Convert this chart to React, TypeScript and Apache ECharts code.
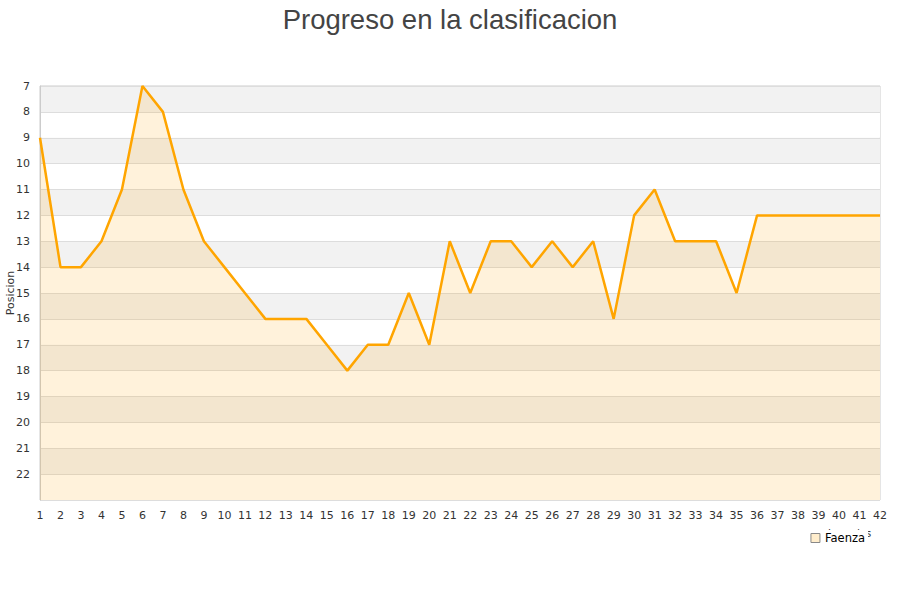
import * as echarts from "echarts";
import { useEffect, useRef } from "react";

const jornadas = Array.from({ length: 42 }, (_, i) => String(i + 1));
const posiciones = [
  9, 14, 14, 13, 11, 7, 8, 11, 13, 14, 15, 16, 16, 16, 17, 18, 17, 17, 15, 17, 13,
  15, 13, 13, 14, 13, 14, 13, 16, 12, 11, 13, 13, 13, 15, 12, 12, 12, 12, 12, 12, 12,
];
const teamName = "Faenza";

export default function App() {
  const chartRef = useRef<HTMLDivElement>(null);

  useEffect(() => {
    if (!chartRef.current) return;
    const chart = echarts.init(chartRef.current, undefined, { renderer: "svg" });

    const option: echarts.EChartsOption = {
      animation: false,
      backgroundColor: "#fff",
      title: {
        text: "Progreso en la clasificacion",
        left: "center",
        top: 0,
        textStyle: {
          fontFamily: "Liberation Sans",
          fontSize: 27.5,
          fontWeight: "normal",
          color: "#444",
        },
      },
      legend: {
        data: [
          {
            name: teamName,
            icon: "rect",
            itemStyle: { color: "#ffedcc", borderColor: "#888", borderWidth: 1 },
          },
        ],
        right: 32,
        top: 530,
        itemWidth: 9,
        itemHeight: 9,
        itemGap: 5,
        backgroundColor: "#fff",
        padding: [2, 3, 2, 3],
        textStyle: { fontFamily: "DejaVu Sans", fontSize: 11.5, color: "#000" },
        z: 10,
      },
      grid: {
        left: 40,
        right: 20,
        top: 86,
        bottom: 100,
        show: true,
        borderColor: "#ccc",
        borderWidth: 1,
        containLabel: false,
        outerBoundsMode: "none",
      } as any,
      xAxis: {
        type: "category",
        data: jornadas,
        boundaryGap: false,
        name: "Jornadas",
        nameLocation: "end",
        nameGap: -52,
        nameTextStyle: {
          fontFamily: "DejaVu Sans",
          fontSize: 10,
          color: "#333",
          verticalAlign: "top",
          padding: [28, 0, 0, 0],
        },
        axisLine: { show: false },
        axisTick: { show: false },
        axisLabel: {
          interval: 0,
          fontFamily: "DejaVu Sans",
          fontSize: 11,
          color: "#333",
          margin: 10,
        },
        splitLine: { show: false },
      },
      yAxis: {
        type: "value",
        inverse: true,
        min: 7,
        max: 23,
        interval: 1,
        name: "Posicion",
        nameLocation: "middle",
        nameGap: 24,
        nameMoveOverlap: false,
        nameTextStyle: { fontFamily: "DejaVu Sans", fontSize: 11, color: "#333" },
        axisLine: { show: true, lineStyle: { color: "#ccc" } },
        axisTick: { show: false },
        axisLabel: {
          fontFamily: "DejaVu Sans",
          fontSize: 11,
          color: "#333",
          margin: 10,
          formatter: (v: number) => (v === 23 ? "" : String(v)),
        },
        splitLine: { show: true, lineStyle: { color: "#ddd" } },
        splitArea: { show: true, areaStyle: { color: ["#f2f2f2", "#ffffff"] } },
      } as any,
      series: [
        {
          name: teamName,
          type: "line",
          data: posiciones,
          symbol: "none",
          lineStyle: { color: "#ffa500", width: 2.5 },
          itemStyle: { color: "#ffa500" },
          areaStyle: { color: "rgba(255,165,0,0.2)", origin: "end" },
        },
      ],
    };

    chart.setOption(option);
    return () => chart.dispose();
  }, []);

  return (
    <div
      ref={chartRef}
      style={{ position: "fixed", left: 0, top: 0, width: 900, height: 600 }}
    />
  );
}
